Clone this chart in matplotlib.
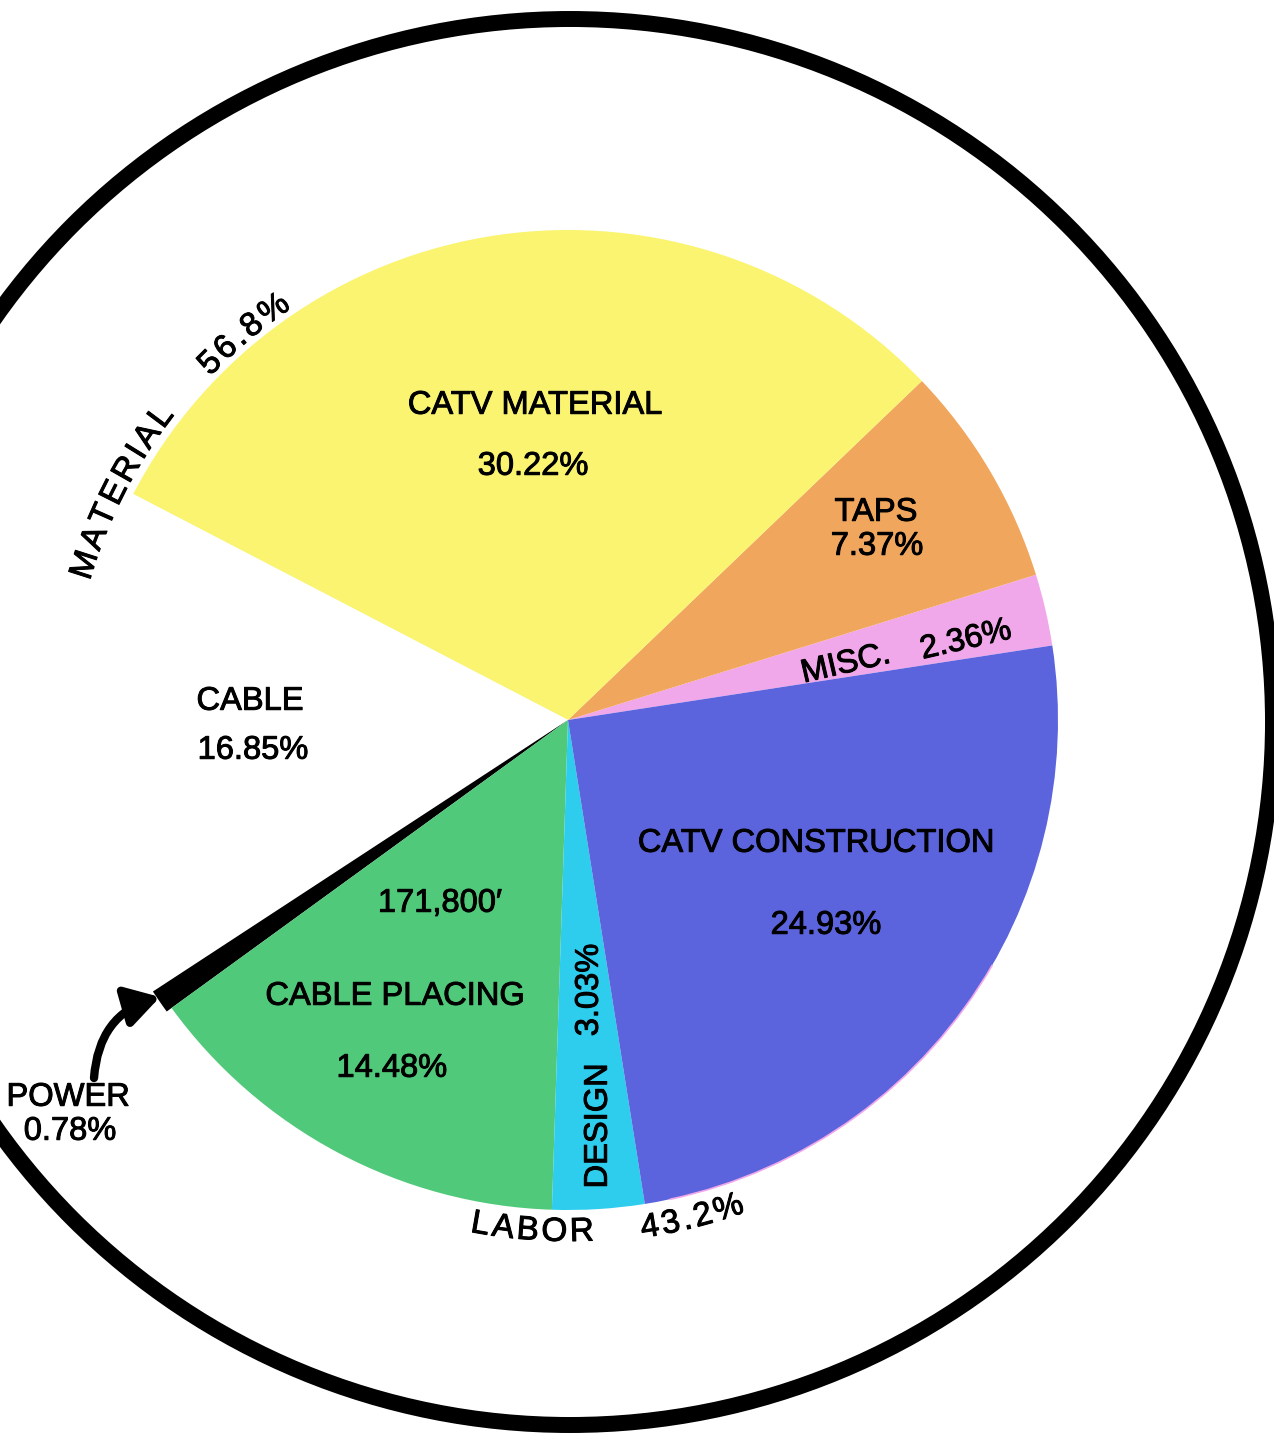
import matplotlib
matplotlib.use("Agg")
import matplotlib.pyplot as plt
import matplotlib.patheffects as pe
import numpy as np
from matplotlib.font_manager import FontProperties
from matplotlib.patches import Arc, Circle, FancyArrowPatch
from matplotlib.textpath import TextToPath

W, H, DPI = 1274, 1434, 100

# slices, counter-clockwise from the MISC./CONSTRUCTION boundary
labels = ["MISC.", "TAPS", "CATV MATERIAL", "CABLE", "POWER",
          "CABLE PLACING", "DESIGN", "CATV CONSTRUCTION"]
shares = [2.36, 7.37, 30.22, 16.85, 0.78, 14.48, 3.03, 24.93]
colors = ["#f1a8ea", "#f0a65c", "#faf470", "#ffffff", "#000000",
          "#50c97a", "#2ecdee", "#5b63dd"]
group_names = ["MATERIAL", "LABOR"]
group_shares = ["56.8%", "43.2%"]
cable_length = "171,800\u2032"

plt.rcParams["font.family"] = ["Liberation Sans", "DejaVu Sans"]
HEAVY = [pe.withStroke(linewidth=0.7, foreground="black")]

fig = plt.figure(figsize=(W / DPI, H / DPI), dpi=DPI)
ax = fig.add_axes([0, 0, 1, 1])

cx, cy, R = 568, H - 720, 490

wedges, _ = ax.pie(shares, colors=colors, startangle=8.75, counterclock=True,
                   radius=R, center=(cx, cy), wedgeprops=dict(linewidth=0))
wedges[4].set_radius(R + 6)  # power wedge pokes out a little

# faint pink print edge on the construction slice
ax.add_patch(Arc((cx, cy), 2 * R, 2 * R, theta1=282, theta2=330,
                 color="#f1a8ea", lw=1.2))

# big outer ring
ax.add_patch(Circle((570, H - 722), 703, fill=False, lw=11.5, color="black"))

ax.set_xlim(0, W)
ax.set_ylim(0, H)
ax.set_aspect("auto")
ax.axis("off")

FS = 23.5


def put(s, x, y, size=FS, rot=0.0):
    # x, y: centre of the capitals, in image pixels from top-left
    half_cap = 0.36 * size * DPI / 72
    a = np.radians(rot)
    ax.text(x + half_cap * np.sin(a), (H - y) - half_cap * np.cos(a), s,
            fontsize=size, rotation=rot, rotation_mode="anchor",
            ha="center", va="baseline", color="black", path_effects=HEAVY)


put(labels[2], 535, 402)
put(f"{shares[2]:.2f}%", 533, 463)
put(labels[1], 876, 509)
put(f"{shares[1]:.2f}%", 877, 543)
put(labels[0], 845, 661, rot=13)
put(f"{shares[0]:.2f}%", 965, 637, rot=13)
put(labels[3], 250, 698)
put(f"{shares[3]:.2f}%", 253, 747)
put(labels[7], 816, 840)
put(f"{shares[7]:.2f}%", 826, 922)
put(cable_length, 440, 900)
put(labels[5], 395, 993)
put(f"{shares[5]:.2f}%", 392, 1065)
put(labels[6], 595, 1126, rot=90)
put(f"{shares[6]:.2f}%", 586, 990, rot=90)
put(labels[4], 68, 1094)
put(f"{shares[4]:.2f}%", 70, 1128)

ttp = TextToPath()


def arc_text(s, theta_c, r_base, size=24, outward=True, track=3):
    fp = FontProperties(family="Liberation Sans", size=size)
    widths = [ttp.get_text_width_height_descent(ch, fp, ismath=False)[0] * DPI / 72
              for ch in s]
    total = sum(widths) + track * (len(s) - 1)
    pos = -total / 2
    sign = -1 if outward else 1
    for ch, w in zip(s, widths):
        th = np.radians(theta_c) + sign * (pos + w / 2) / r_base
        rot = np.degrees(th) - 90 if outward else np.degrees(th) + 90
        ax.text(cx + r_base * np.cos(th), cy + r_base * np.sin(th), ch,
                fontsize=size, rotation=rot, rotation_mode="anchor",
                ha="center", va="baseline", color="black", path_effects=HEAVY)
        pos += w + track


arc_text(group_names[0], 153, 498, outward=True)
arc_text(group_shares[0], 130, 496, outward=True)
arc_text(group_names[1], 266, 521, outward=False)
arc_text(group_shares[1], 284, 523, outward=False)

# arrow pointing at the power wedge
ax.add_patch(FancyArrowPatch(posA=(94, H - 1078), posB=(160, H - 997),
                             connectionstyle="arc3,rad=-0.35",
                             arrowstyle="-|>,head_length=0.5,head_width=0.3",
                             mutation_scale=40, lw=6, color="black",
                             shrinkA=0, shrinkB=0))

fig.savefig("out.png", dpi=DPI)
